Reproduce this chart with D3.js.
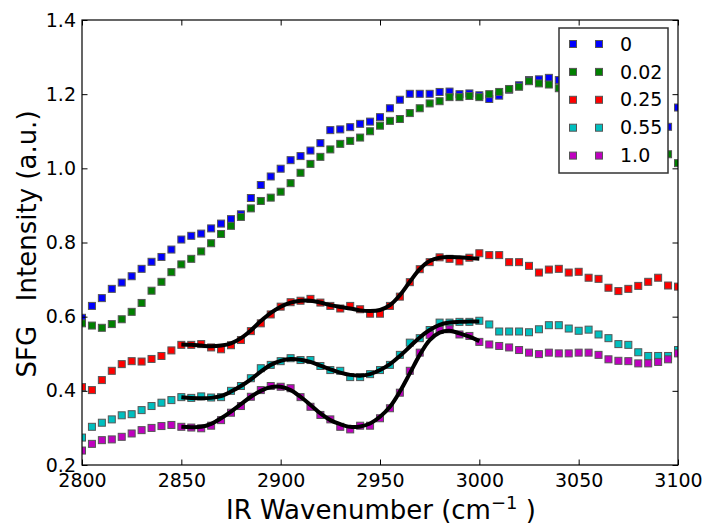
<!DOCTYPE html>
<html><head><meta charset="utf-8">
<script src="https://cdn.jsdelivr.net/npm/d3@7"></script>
<style>body{margin:0;background:#fff}svg{display:block}text{font-family:"DejaVu Sans",sans-serif}</style>
</head><body>
<svg id="chart" width="703" height="525"></svg>
<script>
const wavenumbers = [2800,2805,2810,2815,2820,2825,2830,2835,2840,2845,2850,2855,2860,2865,2870,2875,2880,2885,2890,2895,2900,2905,2910,2915,2920,2925,2930,2935,2940,2945,2950,2955,2960,2965,2970,2975,2980,2985,2990,2995,3000,3005,3010,3015,3020,3025,3030,3035,3040,3045,3050,3055,3060,3065,3070,3075,3080,3085,3090,3095,3100];
const seriesNames = ["0","0.02","0.25","0.55","1.0"];
const seriesColors = ["#0000ff","#008000","#ff0000","#00bfbf","#bf00bf"];
const s0 = [0.597,0.629,0.650,0.675,0.692,0.709,0.729,0.748,0.761,0.781,0.808,0.818,0.824,0.838,0.851,0.863,0.876,0.920,0.955,0.978,0.999,1.022,1.033,1.048,1.068,1.103,1.105,1.111,1.120,1.126,1.138,1.162,1.185,1.201,1.201,1.201,1.206,1.207,1.200,1.202,1.197,1.187,1.196,1.212,1.224,1.238,1.240,1.244,1.238,1.232,1.226,1.218,1.210,1.200,1.188,1.175,1.160,1.145,1.128,1.112,1.164];
const s002 = [0.582,0.576,0.570,0.580,0.593,0.613,0.637,0.670,0.694,0.720,0.741,0.756,0.776,0.798,0.823,0.845,0.869,0.892,0.912,0.921,0.937,0.960,0.988,1.012,1.031,1.051,1.066,1.074,1.083,1.100,1.115,1.128,1.133,1.149,1.162,1.175,1.181,1.192,1.192,1.195,1.192,1.200,1.206,1.214,1.220,1.235,1.229,1.226,1.216,1.205,1.190,1.175,1.160,1.140,1.120,1.100,1.080,1.065,1.050,1.038,1.014];
const s025 = [0.410,0.402,0.429,0.454,0.472,0.480,0.479,0.486,0.494,0.509,0.524,0.524,0.526,0.517,0.512,0.523,0.537,0.561,0.582,0.606,0.627,0.639,0.643,0.648,0.638,0.629,0.622,0.629,0.620,0.608,0.608,0.629,0.654,0.693,0.728,0.747,0.760,0.756,0.749,0.759,0.771,0.766,0.766,0.747,0.747,0.737,0.719,0.727,0.729,0.719,0.721,0.705,0.702,0.678,0.669,0.675,0.683,0.694,0.705,0.684,0.681];
const s055 = [0.274,0.303,0.314,0.323,0.334,0.337,0.348,0.359,0.368,0.375,0.383,0.381,0.385,0.382,0.383,0.400,0.413,0.434,0.461,0.470,0.480,0.488,0.483,0.483,0.467,0.456,0.454,0.437,0.437,0.445,0.456,0.470,0.497,0.530,0.542,0.564,0.584,0.584,0.586,0.586,0.589,0.579,0.560,0.560,0.560,0.558,0.566,0.577,0.577,0.568,0.562,0.565,0.552,0.542,0.526,0.524,0.504,0.494,0.494,0.494,0.510];
const s10 = [0.239,0.257,0.267,0.269,0.276,0.285,0.294,0.300,0.305,0.308,0.303,0.301,0.299,0.306,0.321,0.341,0.359,0.384,0.402,0.413,0.411,0.407,0.383,0.357,0.335,0.323,0.303,0.296,0.306,0.306,0.326,0.353,0.395,0.454,0.503,0.551,0.564,0.566,0.552,0.548,0.532,0.525,0.521,0.517,0.510,0.503,0.499,0.503,0.501,0.501,0.503,0.503,0.497,0.485,0.481,0.480,0.474,0.474,0.478,0.485,0.501];
const fitWavenumbers = [2850,2855,2860,2865,2870,2875,2880,2885,2890,2895,2900,2905,2910,2915,2920,2925,2930,2935,2940,2945,2950,2955,2960,2965,2970,2975,2980,2985,2990,2995,3000];
const fit025 = [0.525,0.524,0.522,0.520,0.522,0.528,0.542,0.563,0.588,0.610,0.627,0.638,0.643,0.643,0.638,0.631,0.626,0.622,0.617,0.615,0.618,0.631,0.658,0.694,0.728,0.750,0.759,0.761,0.760,0.758,0.756];
const fit055 = [0.383,0.381,0.380,0.381,0.386,0.398,0.413,0.431,0.452,0.470,0.481,0.486,0.484,0.478,0.468,0.458,0.449,0.443,0.441,0.445,0.456,0.472,0.494,0.519,0.544,0.564,0.578,0.584,0.586,0.587,0.587];
const fit10 = [0.303,0.302,0.303,0.311,0.326,0.344,0.364,0.384,0.400,0.410,0.411,0.402,0.384,0.362,0.339,0.321,0.310,0.303,0.304,0.312,0.330,0.357,0.398,0.447,0.497,0.537,0.557,0.562,0.555,0.546,0.534];
const xTicks = [2800,2850,2900,2950,3000,3050,3100];
const yTicks = [0.2,0.4,0.6,0.8,1.0,1.2,1.4];

const seriesValues = [s0,s002,s025,s055,s10];
const fits = [fit025, fit055, fit10];

const svg = d3.select("#chart");
const L=82, R=678, T=20, B=465;
const x = d3.scaleLinear().domain([2800,3100]).range([L,R]);
const y = d3.scaleLinear().domain([0.2,1.4]).range([B,T]);

svg.append("defs").append("clipPath").attr("id","clip")
  .append("rect").attr("x",L).attr("y",T).attr("width",R-L).attr("height",B-T);

const plot = svg.append("g").attr("clip-path","url(#clip)");
const ms = 7;
seriesValues.forEach((vals,si)=>{
  plot.append("g").selectAll("rect").data(vals).join("rect")
    .attr("x",(d,i)=>x(wavenumbers[i])-ms/2)
    .attr("y",d=>y(d)-ms/2)
    .attr("width",ms).attr("height",ms)
    .attr("fill",seriesColors[si])
    .attr("stroke","#555").attr("stroke-width",1);
});
const line = d3.line().x((d,i)=>x(fitWavenumbers[i])).y(d=>y(d)).curve(d3.curveCatmullRom);
fits.forEach(f=>{
  plot.append("path").attr("d",line(f)).attr("fill","none")
    .attr("stroke","#000").attr("stroke-width",4).attr("stroke-linecap","butt");
});

// axes
const fmtY = d3.format(".1f");
const gx = svg.append("g").attr("transform",`translate(0,${B})`)
  .call(d3.axisBottom(x).tickValues(xTicks).tickFormat(d3.format("d")).tickSizeInner(-5.5).tickSizeOuter(0).tickPadding(8.5));
const gy = svg.append("g").attr("transform",`translate(${L},0)`)
  .call(d3.axisLeft(y).tickValues(yTicks).tickFormat(fmtY).tickSizeInner(-5.5).tickSizeOuter(0).tickPadding(6));
const gt = svg.append("g").attr("transform",`translate(0,${T})`)
  .call(d3.axisTop(x).tickValues(xTicks).tickFormat("").tickSizeInner(-5.5).tickSizeOuter(0));
const gr = svg.append("g").attr("transform",`translate(${R},0)`)
  .call(d3.axisRight(y).tickValues(yTicks).tickFormat("").tickSizeInner(-5.5).tickSizeOuter(0));
[gx,gy,gt,gr].forEach(g=>{
  g.select(".domain").remove();
  g.selectAll("line").attr("stroke","#000").attr("stroke-width",1);
  g.selectAll("text").attr("font-family","DejaVu Sans").attr("font-size",19).attr("fill","#000");
});
svg.append("rect").attr("x",L).attr("y",T).attr("width",R-L).attr("height",B-T)
  .attr("fill","none").attr("stroke","#000").attr("stroke-width",1.2);

// legend
const lg = svg.append("g");
lg.append("rect").attr("x",559).attr("y",28).attr("width",109).attr("height",145)
  .attr("fill","#fff").attr("stroke","#333").attr("stroke-width",1.5);
seriesNames.forEach((n,i)=>{
  const cy = 44 + i*27.9;
  [573,599].forEach(cx=>{
    lg.append("rect").attr("x",cx-ms/2).attr("y",cy-ms/2).attr("width",ms).attr("height",ms)
      .attr("fill",seriesColors[i]).attr("stroke","#555").attr("stroke-width",1);
  });
  lg.append("text").attr("x",620).attr("y",cy+6.6).attr("font-size",19).text(n);
});

// axis labels
const xl = svg.append("text").attr("x",381).attr("y",519).attr("text-anchor","middle").attr("font-size",26);
xl.append("tspan").text("IR Wavenumber (cm");
xl.append("tspan").attr("font-size",18).attr("dy",-10).text("\u22121");
xl.append("tspan").attr("dy",10).style("white-space","pre").text(" )");
svg.append("text").attr("transform","translate(36,244) rotate(-90)").attr("text-anchor","middle")
  .attr("font-size",26).style("white-space","pre").text("SFG   Intensity (a.u.)");
</script>
</body></html>
